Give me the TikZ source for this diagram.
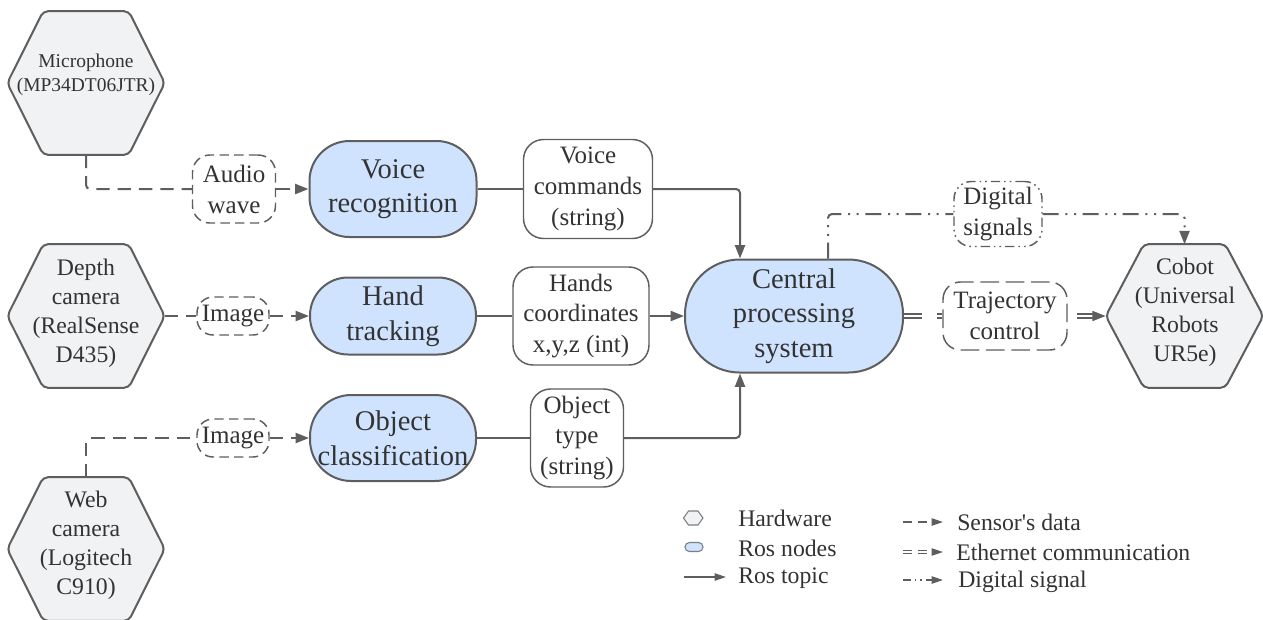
\documentclass[tikz,border=0pt]{standalone}
\usepackage{fontspec}
\setmainfont{Liberation Serif}
\newfontfamily\lsf{Liberation Serif}
\usetikzlibrary{arrows.meta,calc}
\definecolor{linec}{HTML}{5E5E5E}
\definecolor{hexfill}{HTML}{F1F2F4}
\definecolor{rosfill}{HTML}{CFE3FF}
\definecolor{txtc}{HTML}{333333}
\newcommand\fbig{\lsf\fontsize{21.4}{26}\selectfont}
\newcommand\flab{\lsf\fontsize{18.75}{23.2}\selectfont}
\newcommand\fhex{\lsf\fontsize{17.8}{21.7}\selectfont}
\newcommand\fmic{\lsf\fontsize{14.6}{18}\selectfont}
\newcommand\fleg{\lsf\fontsize{17.8}{21}\selectfont}
\newcommand\hexat[4]{%
  \node[hexbox] (#3) at (#1,#2) {};
  \draw[hexline] (#3.west) -- ($(#3.north west)+(#4,0)$) -- ($(#3.north east)+(-#4,0)$) -- (#3.east) -- ($(#3.south east)+(-#4,0)$) -- ($(#3.south west)+(#4,0)$) -- cycle;}
\begin{document}
\begin{tikzpicture}[x=0.75pt,y=-0.75pt,
  every node/.style={text=txtc, inner sep=0pt, align=center},
  hexbox/.style={minimum width=117.75pt, minimum height=107.25pt},
  hexline/.style={draw=linec, line width=1.5pt, fill=hexfill, rounded corners=3.5pt},
  hextext/.style={font=\fhex},
  ros/.style={draw=linec, line width=1.5pt, fill=rosfill, font=\fbig},
  topiclab/.style={draw=linec, line width=1.1pt, fill=white, rounded corners=15pt, font=\flab},
  senslab/.style={draw=linec, line width=1.1pt, fill=white, rounded corners=13pt, dash pattern=on 7pt off 4pt, font=\flab},
  diglab/.style={senslab, dash pattern=on 7pt off 3pt on 1.2pt off 3pt on 1.2pt off 3pt},
  conn/.style={draw=linec, line width=1.5pt, rounded corners=3pt},
  tip/.style={-{Triangle[length=10pt,width=7.5pt]}},
  legtip/.style={-{Triangle[length=8.5pt,width=5.5pt]}},
  topic/.style={conn},
  sensor/.style={conn, dash pattern=on 10pt off 6pt},
  digital/.style={conn, dash pattern=on 12pt off 5pt on 1.5pt off 5pt on 1.5pt off 5pt},
  eth/.style={conn, double=white, double distance=1.4pt, line width=1.2pt},
  legtext/.style={anchor=base west, font=\fleg},
]
\useasboundingbox (0,0) rectangle (1263,619);

% hardware hexagons
\hexat{86}{83}{mic}{36}
\node[font=\fmic] (mict) at (86,75) {Microphone\\(MP34DT06JTR)};
\hexat{86}{316}{depth}{36}
\node[hextext] (deptht) at (86,313) {Depth\\camera\\(RealSense\\D435)};
\hexat{86}{549}{web}{36}
\node[hextext] (webt) at (86,545) {Web\\camera\\(Logitech\\C910)};
\hexat{1184.5}{316}{cobot}{38}
\node[hextext] (cobott) at (1185,312) {Cobot\\(Universal\\Robots\\UR5e)};

% ROS nodes
\node[ros, minimum width=125.25pt, minimum height=72pt, rounded corners=30pt] (voice) at (393,189) {Voice\\recognition};
\node[ros, minimum width=124.5pt, minimum height=57.75pt, rounded corners=28.5pt] (hand) at (393,316) {Hand\\tracking};
\node[ros, minimum width=124.5pt, minimum height=64.5pt, rounded corners=31pt] (obj) at (393,438) {Object\\classification};
\node[ros, minimum width=163.5pt, minimum height=84.75pt, rounded corners=41pt] (cps) at (794,316) {Central\\processing\\system};

% topic labels
\node[topiclab, minimum width=96.75pt, minimum height=74.25pt] (vc) at (588,189) {Voice\\commands\\(string)};
\node[topiclab, minimum width=102pt, minimum height=73.5pt] (hc) at (581,316) {Hands\\coordinates\\x,y,z (int)};
\node[topiclab, minimum width=69.75pt, minimum height=73.5pt] (ot) at (577,438) {Object\\type\\(string)};

% sensor labels
\node[senslab, minimum width=62.25pt, minimum height=51pt] (audio) at (234,189) {Audio\\wave};
\node[senslab, minimum width=54pt, minimum height=28.5pt, rounded corners=12pt] (img1) at (233,316) {Image};
\node[senslab, minimum width=54pt, minimum height=28.5pt, rounded corners=12pt] (img2) at (233,438) {Image};
\node[diglab, minimum width=66pt, minimum height=48.75pt] (dig) at (998,214) {Digital\\signals};
\node[senslab, minimum width=93pt, minimum height=51pt, dash pattern=on 14pt off 5pt] (traj) at (1005,316) {Trajectory\\control};

% sensor connectors
\draw[sensor] (mic.south) |- (audio.west);
\draw[sensor,tip] (audio.east) -- (voice.west);
\draw[sensor] (depth.east) -- (img1.west);
\draw[sensor,tip] (img1.east) -- (hand.west);
\draw[sensor] (web.north) |- (img2.west);
\draw[sensor,tip] (img2.east) -- (obj.west);

% topic connectors
\draw[topic] (voice.east) -- (vc.west);
\draw[topic,tip] (vc.east) -| ($(cps.north)+(-54,0)$);
\draw[topic] (hand.east) -- (hc.west);
\draw[topic,tip] (hc.east) -- (cps.west);
\draw[topic] (obj.east) -- (ot.west);
\draw[topic,tip] (ot.east) -| ($(cps.south)+(-54,0)$);

% digital signal
\draw[digital] ($(cps.north)+(34,0)$) |- (dig.west);
\draw[digital,tip] (dig.east) -| (cobot.north);

% ethernet
\draw[eth, dash pattern=on 13.5pt off 11pt] (cps.east) -- (traj.west);
\draw[eth, tip, shorten <=6.75pt] (traj.east) -- (cobot.west);

% legend
\draw[draw=linec!80, fill=hexfill, line width=0.8pt] (683.5,518) -- (688.5,511) -- (698,511) -- (703,518) -- (698,525) -- (688.5,525) -- cycle;
\node[draw=linec!80, fill=rosfill, line width=0.8pt, minimum width=13.5pt, minimum height=6.75pt, rounded corners=3.3pt] (legros) at (694,547) {};
\coordinate (lt1) at (684,577);
\coordinate (lt2) at (726,577);
\draw[draw=linec, line width=1pt, legtip] (lt1) -- (lt2);
\node[legtext] (lhw) at (738,526) {Hardware};
\node[legtext] (lrn) at (738,556) {Ros nodes};
\node[legtext] (lrt) at (738,583) {Ros topic};

\coordinate (ls1) at (903,522);
\coordinate (ls2) at (943,522);
\coordinate (le1) at (903,552);
\coordinate (le2) at (943,552);
\coordinate (ld1) at (903,580);
\coordinate (ld2) at (943,580);
\draw[draw=linec, line width=1pt, dash pattern=on 6.75pt off 4.5pt, legtip] (ls1) -- (ls2);
\draw[draw=linec, line width=0.9pt, double=white, double distance=1.1pt, dash pattern=on 6.75pt off 4.5pt, legtip] (le1) -- (le2);
\draw[draw=linec, line width=1pt, dash pattern=on 6pt off 3pt on 1pt off 3pt on 1pt off 3pt on 30pt, legtip] (ld1) -- (ld2);
\node[legtext] (lsd) at (957,530) {Sensor's data};
\node[legtext] (lec) at (956,560) {Ethernet communication};
\node[legtext] (lds) at (958,587) {Digital signal};
\end{tikzpicture}
\end{document}
